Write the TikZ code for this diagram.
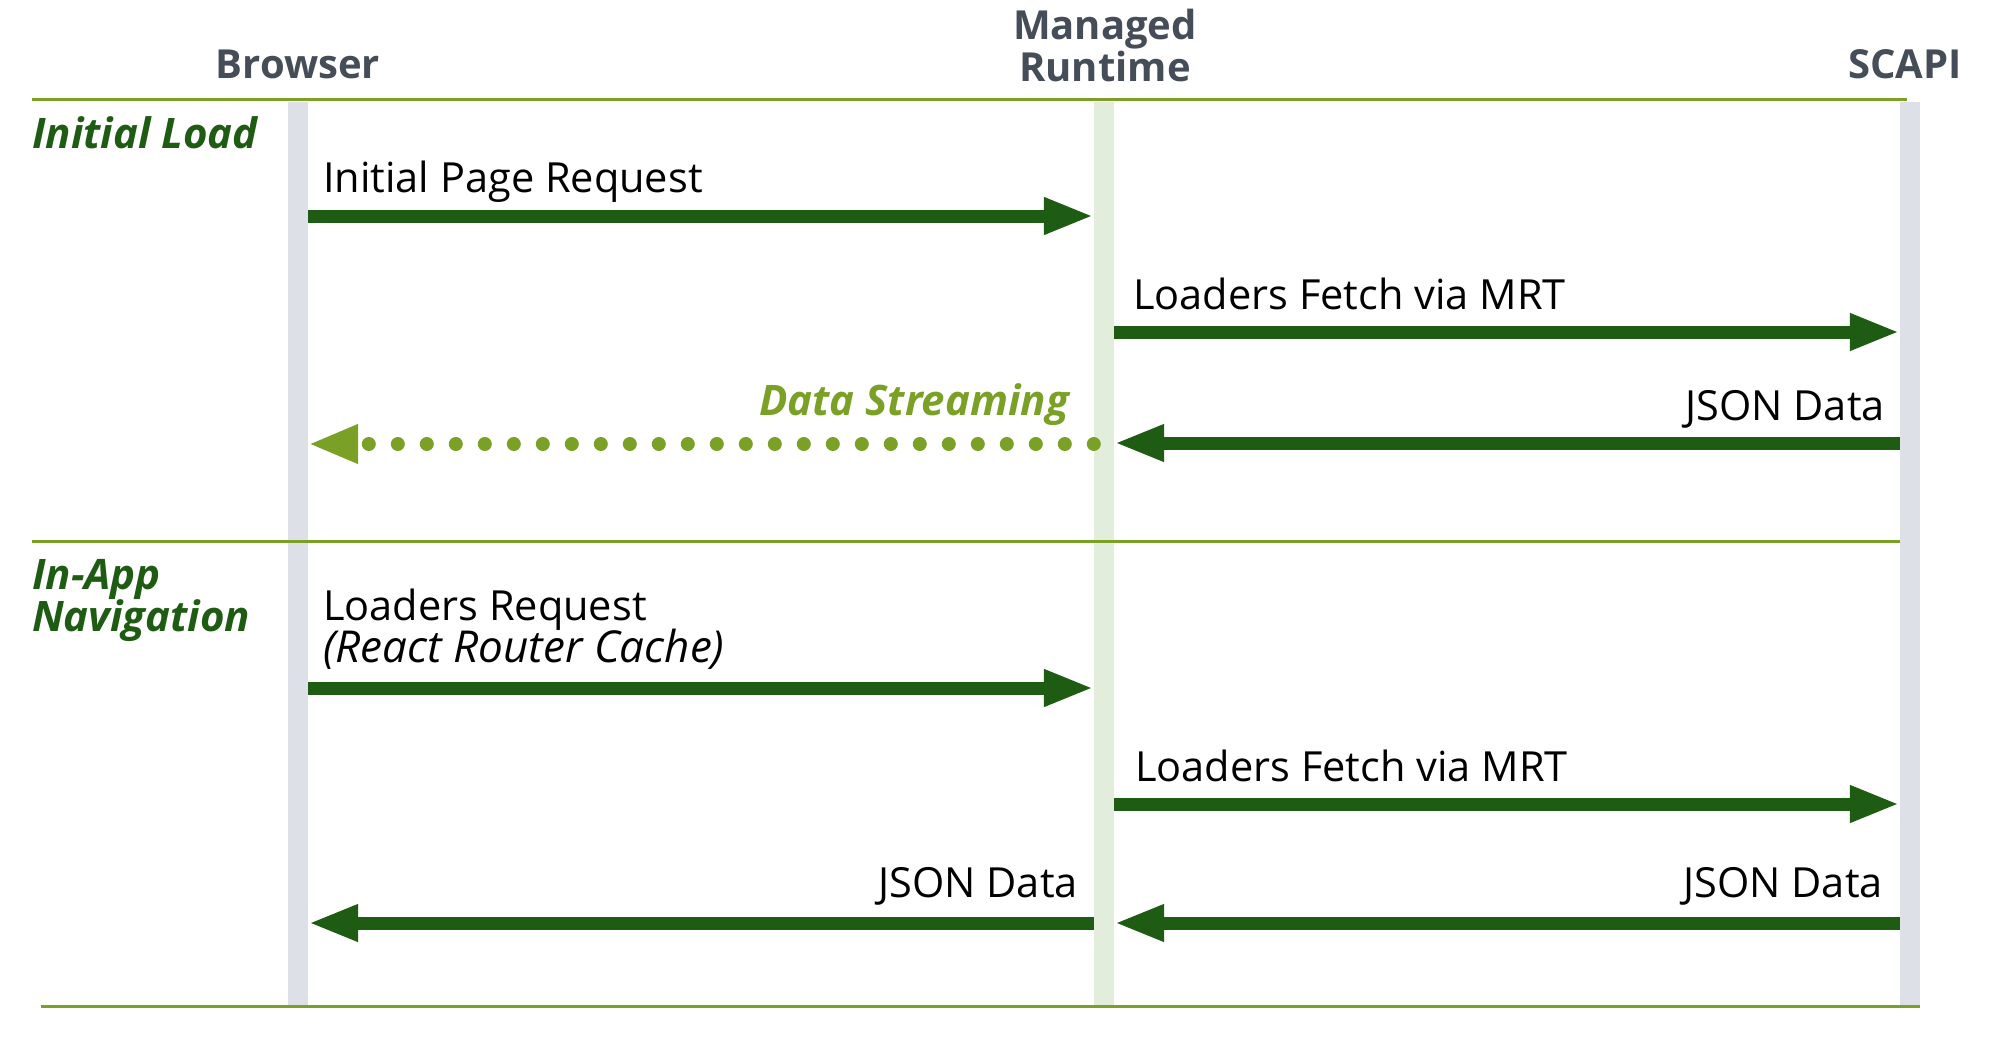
\documentclass[tikz,border=0pt]{standalone}
\usepackage{fontspec}
\setmainfont{Open Sans}
\usetikzlibrary{arrows.meta}
\definecolor{dkgreen}{HTML}{1F5C13}
\definecolor{olivegr}{HTML}{7AA026}
\definecolor{lifegray}{HTML}{DDE1E7}
\definecolor{lifegreen}{HTML}{E2EEDB}
\definecolor{hdr}{HTML}{454D59}
\begin{document}
\begin{tikzpicture}[x=1pt,y=-1pt,
  lifeline/.style={rectangle,inner sep=0pt,minimum width=20pt,minimum height=903pt,draw=none},
  sepline/.style={olivegr,line width=3pt},
  msg/.style={dkgreen,line width=13pt,-{Triangle[length=50pt,width=34pt]}},
  stream/.style={olivegr,line width=14pt,line cap=round,dash pattern=on 0pt off 29pt,-{Triangle[length=50pt,width=36pt]}},
  hdrtext/.style={font=\fontsize{40}{46}\selectfont\bfseries,text=hdr,inner sep=0pt},
  lbl/.style={font=\fontsize{41.5}{48}\selectfont,inner sep=0pt},
  itlbl/.style={font=\fontsize{44}{50}\selectfont\itshape,inner sep=0pt},
  secttext/.style={font=\fontsize{42}{46}\selectfont\bfseries\itshape,text=dkgreen,inner sep=0pt},
]
\useasboundingbox[fill=white] (0,0) rectangle (2000,1046);

% lifelines
\node[lifeline,fill=lifegray] (bl) at (298,553.5) {};
\node[lifeline,fill=lifegreen] (ml) at (1104,553.5) {};
\node[lifeline,fill=lifegray] (sl) at (1910,553.5) {};

% separators
\coordinate (t1) at (32,99.5);  \coordinate (t2) at (1907,99.5);
\coordinate (m1) at (32,541);   \coordinate (m2) at (1900,541);
\coordinate (u1) at (41,1006);  \coordinate (u2) at (1920,1006);
\draw[sepline] (t1) -- (t2);
\draw[sepline] (m1) -- (m2);
\draw[sepline] (u1) -- (u2);

% headers
\node[hdrtext,anchor=base] (hb) at (298,79) {Browser};
\node[hdrtext,anchor=base] (hm1) at (1105,40) {Managed};
\node[hdrtext,anchor=base] (hm2) at (1105,82) {Runtime};
\node[hdrtext,anchor=base east] (hs) at (1962,79) {SCAPI};

% section labels
\node[secttext,anchor=base west] (s1) at (32,149) {Initial Load};
\node[secttext,anchor=base west] (s2a) at (32,589) {In-App};
\node[secttext,anchor=base west] (s2b) at (32,631) {Navigation};

% messages: initial load
\draw[msg] (bl.east |- 0,216) -- (ml.west |- 0,216);
\node[lbl,anchor=base west] (l1) at (323,193) {Initial Page Request};

\draw[msg] (ml.east |- 0,332) -- (sl.west |- 0,332);
\node[lbl,anchor=base west] (l2) at (1133,309) {Loaders Fetch via MRT};

\draw[msg] (sl.west |- 0,443) -- (ml.east |- 0,443);
\node[lbl,anchor=base east] (l3) at (1885,420) {JSON Data};

\draw[stream] (ml.west |- 0,444) -- (bl.east |- 0,444);
\node[secttext,text=olivegr,anchor=base east] (l4) at (1069,415) {Data Streaming};

% messages: in-app navigation
\draw[msg] (bl.east |- 0,688) -- (ml.west |- 0,688);
\node[lbl,anchor=base west] (l5a) at (323,620) {Loaders Request};
\node[itlbl,anchor=base west] (l5b) at (323,662) {(React Router Cache)};

\draw[msg] (ml.east |- 0,804) -- (sl.west |- 0,804);
\node[lbl,anchor=base west] (l6) at (1135,781) {Loaders Fetch via MRT};

\draw[msg] (ml.west |- 0,923) -- (bl.east |- 0,923);
\node[lbl,anchor=base east] (l7) at (1078,897) {JSON Data};

\draw[msg] (sl.west |- 0,923) -- (ml.east |- 0,923);
\node[lbl,anchor=base east] (l8) at (1883,897) {JSON Data};
\end{tikzpicture}
\end{document}
